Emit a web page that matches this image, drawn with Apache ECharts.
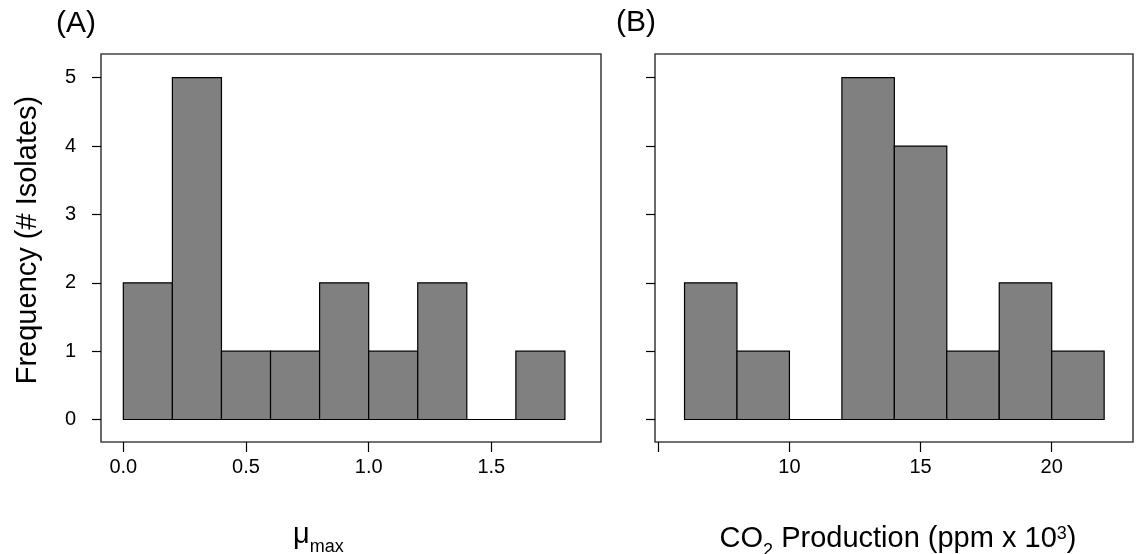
<!DOCTYPE html>
<html>
<head>
<meta charset="utf-8">
<script src="https://cdn.jsdelivr.net/npm/echarts@6/dist/echarts.min.js"></script>
<style>
  html, body { margin: 0; padding: 0; background: #fff; }
  #main { width: 1137px; height: 554px; }
</style>
</head>
<body>
<div id="main"></div>
<script>
// panel A: mu max histogram, bins of 0.2
const edgesA = [0, 0.2, 0.4, 0.6, 0.8, 1.0, 1.2, 1.4, 1.6, 1.8];
const countsA = [2, 5, 1, 1, 2, 1, 2, 0, 1];
const ticksA = [0, 0.5, 1.0, 1.5];
const tickLabelsA = ['0.0', '0.5', '1.0', '1.5'];

// panel B: CO2 production histogram, bins of 2
const edgesB = [6, 8, 10, 12, 14, 16, 18, 20, 22];
const countsB = [2, 1, 0, 5, 4, 1, 2, 1];
const ticksB = [5, 10, 15, 20];
const tickLabelsB = [10, 15, 20];

const yTicks = [0, 1, 2, 3, 4, 5];

const FONT = 'Liberation Sans';

function toBins(edges, counts) {
  return counts.map((c, i) => [edges[i], edges[i + 1], c]);
}

function renderBar(params, api) {
  const p0 = api.coord([api.value(0), 0]);
  const p1 = api.coord([api.value(1), api.value(2)]);
  return {
    type: 'rect',
    shape: { x: p0[0], y: p1[1], width: p1[0] - p0[0], height: p0[1] - p1[1] },
    style: { fill: '#808080', stroke: '#000', lineWidth: 1.2 }
  };
}

function xAxisFor(idx, min, max, ticks, labels, fmt) {
  return {
    type: 'value', gridIndex: idx, min: min, max: max,
    splitLine: { show: false },
    axisLine: { show: false, onZero: false },
    axisTick: { show: true, length: 10, customValues: ticks, lineStyle: { color: '#000', width: 1.2 } },
    axisLabel: {
      customValues: labels, margin: 15, color: '#000',
      fontFamily: FONT, fontSize: 20, formatter: fmt
    }
  };
}

function yAxisFor(idx, showLabels) {
  return {
    type: 'value', gridIndex: idx, min: -0.329, max: 5.347,
    splitLine: { show: false },
    axisLine: { show: false, onZero: false },
    axisTick: { show: true, length: 9, customValues: yTicks, lineStyle: { color: '#000', width: 1.2 } },
    axisLabel: {
      show: showLabels, customValues: yTicks, margin: 25, color: '#000',
      fontFamily: FONT, fontSize: 20
    }
  };
}

const chart = echarts.init(document.getElementById('main'));

// sub/superscripts: middle aligned, shifted by uneven padding
const titleRich = {
  n: { fontFamily: FONT, fontSize: 29, lineHeight: 44, color: '#000', verticalAlign: 'middle' },
  sub: { fontFamily: FONT, fontSize: 18, lineHeight: 18, color: '#000', verticalAlign: 'middle', padding: [24, 0, 0, 0] },
  msub: { fontFamily: FONT, fontSize: 18, lineHeight: 18, color: '#000', verticalAlign: 'middle', padding: [24, 0, 0, 0] },
  sup: { fontFamily: FONT, fontSize: 18, lineHeight: 18, color: '#000', verticalAlign: 'middle', padding: [0, 0, 9, 0] }
};

chart.setOption({
  animation: false,
  grid: [
    { left: 101, top: 54, width: 500, height: 388, show: true, borderColor: '#444', borderWidth: 1.6, backgroundColor: 'transparent' },
    { left: 655, top: 54, width: 478, height: 388, show: true, borderColor: '#444', borderWidth: 1.6, backgroundColor: 'transparent' }
  ],
  xAxis: [
    xAxisFor(0, -0.091, 1.947, ticksA, ticksA, v => tickLabelsA[ticksA.indexOf(v)]),
    xAxisFor(1, 4.874, 23.10, ticksB, tickLabelsB, v => String(v))
  ],
  yAxis: [yAxisFor(0, true), yAxisFor(1, false)],
  series: [
    { type: 'custom', xAxisIndex: 0, yAxisIndex: 0, renderItem: renderBar, encode: { x: [0, 1], y: 2 }, data: toBins(edgesA, countsA) },
    { type: 'custom', xAxisIndex: 1, yAxisIndex: 1, renderItem: renderBar, encode: { x: [0, 1], y: 2 }, data: toBins(edgesB, countsB) }
  ],
  graphic: [
    { type: 'text', x: 56, y: 24, style: { text: '(A)', font: '30px "Liberation Sans"', fill: '#000', verticalAlign: 'middle' } },
    { type: 'text', x: 616, y: 23, style: { text: '(B)', font: '30px "Liberation Sans"', fill: '#000', verticalAlign: 'middle' } },
    {
      type: 'text', x: 28, y: 240, rotation: Math.PI / 2,
      style: { text: 'Frequency (# Isolates)', font: '29px "Liberation Sans"', fill: '#000', align: 'center', verticalAlign: 'middle' }
    },
    {
      type: 'text', x: 293, y: 535,
      style: { text: '{n|μ}{msub|max}', rich: titleRich, align: 'left', verticalAlign: 'middle' }
    },
    {
      type: 'text', x: 898, y: 539,
      style: { text: '{n|CO}{sub|2}{n| Production (ppm x 10}{sup|3}{n|)}', rich: titleRich, align: 'center', verticalAlign: 'middle' }
    }
  ]
});
</script>
</body>
</html>
